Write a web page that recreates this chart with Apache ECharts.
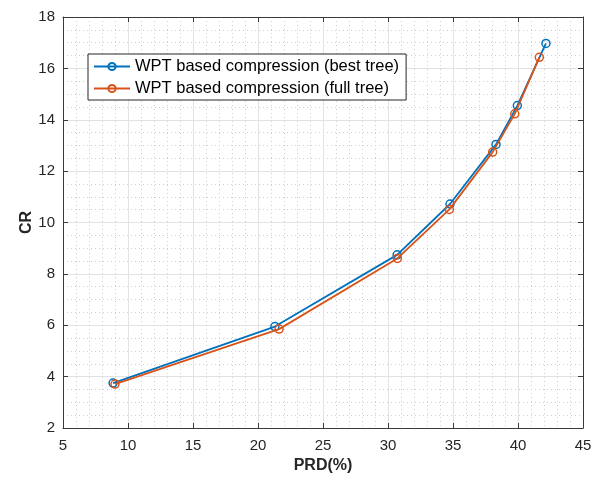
<!DOCTYPE html>
<html>
<head>
<meta charset="utf-8">
<script src="https://cdn.jsdelivr.net/npm/echarts@6/dist/echarts.min.js"></script>
<style>html,body{margin:0;padding:0;background:#fff}#c{width:603px;height:477px}</style>
</head>
<body>
<div id="c"></div>
<script>
const bestPRD = [8.85, 21.3, 30.7, 34.77, 38.31, 39.95, 42.15];
const bestCR  = [3.75, 5.95, 8.74, 10.72, 13.04, 14.55, 16.97];
const fullPRD = [9.0, 21.62, 30.72, 34.72, 38.05, 39.75, 41.64];
const fullCR  = [3.71, 5.85, 8.6, 10.51, 12.74, 14.23, 16.43];
const seriesNames = ['WPT based compression (best tree)', 'WPT based compression (full tree)'];
const xTicks = {min: 5, max: 45, interval: 5};
const yTicks = {min: 2, max: 18, interval: 2};

const font = 'Liberation Sans, Helvetica, Arial, sans-serif';
const axisColor = '#3a3a3a';
function pairs(xs, ys){ return xs.map((x,i)=>[x, ys[i]]); }

function mkAxis(isX, pos, primary, t){
  return {
    type: 'value', position: pos,
    min: t.min, max: t.max, interval: t.interval,
    axisLine: {show: true, onZero: false, lineStyle: {color: axisColor, width: 1}},
    axisTick: {show: true, inside: true, length: 5, lineStyle: {color: axisColor}},
    axisLabel: {show: primary, color: '#262626', fontSize: 15, fontFamily: font, margin: isX ? 10 : 8},
    splitLine: {show: primary, lineStyle: {color: '#e3e3e3', width: 1}},
    minorTick: {show: false, splitNumber: isX ? 5 : 4},
    minorSplitLine: {show: primary, lineStyle: {color: '#cfcfcf', width: 1, type: [1, 3]}},
    name: primary ? (isX ? 'PRD(%)' : 'CR') : '',
    nameLocation: 'middle',
    nameMoveOverlap: false,
    nameGap: isX ? 30 : 28,
    nameTextStyle: {color: '#262626', fontSize: 16, fontWeight: 'bold', fontFamily: font}
  };
}

const chart = echarts.init(document.getElementById('c'), null, {renderer: 'canvas'});
chart.setOption({
  backgroundColor: '#fff',
  animation: false,
  grid: {left: 63, right: 20, top: 17, bottom: 49, containLabel: false, outerBoundsMode: 'none'},
  xAxis: [mkAxis(true, 'bottom', true, xTicks), mkAxis(true, 'top', false, xTicks)],
  yAxis: [mkAxis(false, 'left', true, yTicks), mkAxis(false, 'right', false, yTicks)],
  legend: {
    orient: 'vertical', left: 88, top: 54,
    backgroundColor: '#fff', borderColor: '#262626', borderWidth: 1,
    padding: [4, 7, 3, 5], itemGap: 5, itemWidth: 36, itemHeight: 9,
    textStyle: {color: '#000', fontSize: 16.5, fontFamily: font},
    data: seriesNames
  },
  series: [
    {name: seriesNames[0], type: 'line', data: pairs(bestPRD, bestCR),
     symbol: 'circle', symbolSize: 8,
     lineStyle: {color: '#0072BD', width: 1.8},
     itemStyle: {color: 'rgba(255,255,255,0)', borderColor: '#0072BD', borderWidth: 1.5}, z: 3},
    {name: seriesNames[1], type: 'line', data: pairs(fullPRD, fullCR),
     symbol: 'circle', symbolSize: 8,
     lineStyle: {color: '#D95319', width: 1.8},
     itemStyle: {color: 'rgba(255,255,255,0)', borderColor: '#D95319', borderWidth: 1.5}, z: 4}
  ]
});
</script>
</body>
</html>
